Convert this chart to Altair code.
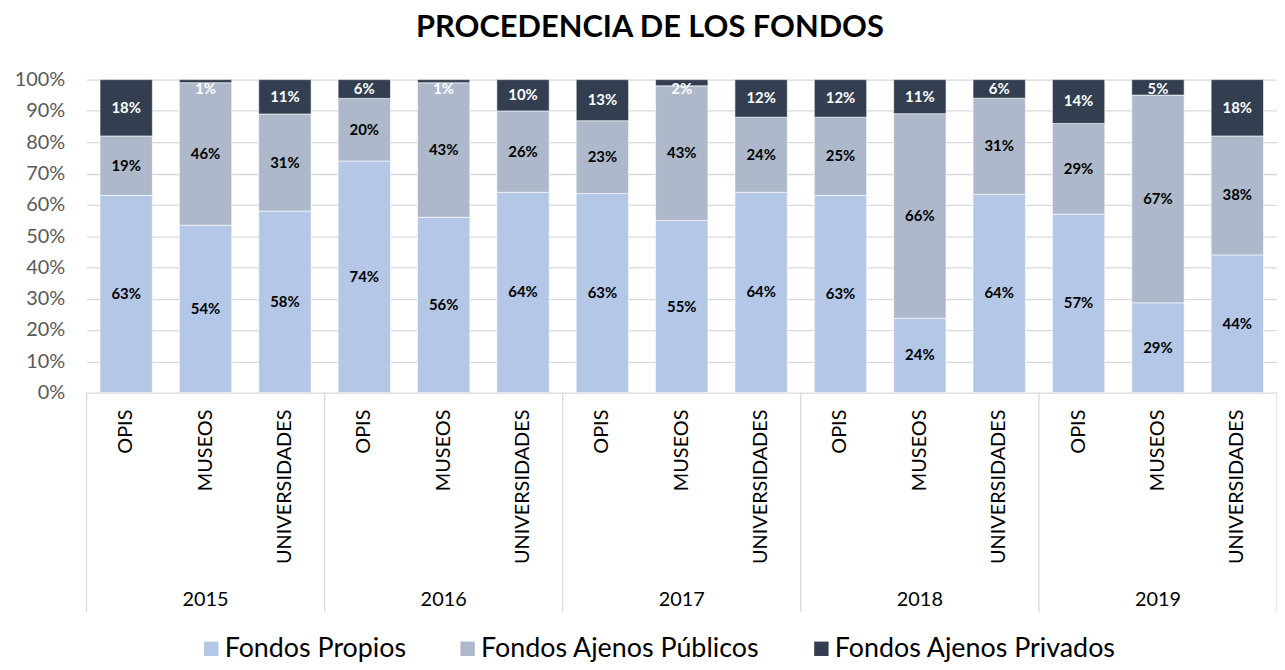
import altair as alt
import pandas as pd

years = ["2015", "2016", "2017", "2018", "2019"]
categories = ["OPIS", "MUSEOS", "UNIVERSIDADES"]
series = ["Fondos Propios", "Fondos Ajenos Públicos", "Fondos Ajenos Privados"]
propios = [63, 54, 58, 74, 56, 64, 63, 55, 64, 63, 24, 64, 57, 29, 44]
publicos = [19, 46, 31, 20, 43, 26, 23, 43, 24, 25, 66, 31, 29, 67, 38]
privados = [18, 1, 11, 6, 1, 10, 13, 2, 12, 12, 11, 6, 14, 5, 18]
colors = ["#B4C7E7", "#ADB9CA", "#333F50"]
y_ticks = [0, 0.1, 0.2, 0.3, 0.4, 0.5, 0.6, 0.7, 0.8, 0.9, 1.0]

F = "Lato"

rows = []
keys = []
cat_rows = []
for i, yr in enumerate(years):
    for j, c in enumerate(categories):
        k = i * 3 + j
        key = f"{yr}|{c}"
        keys.append(key)
        cat_rows.append({"key": key, "cat": c, "year": yr, "pos": j})
        for s, (name, vals) in enumerate(zip(series, [propios, publicos, privados])):
            rows.append({"key": key, "year": yr, "cat": c, "serie": name, "ord": s, "value": vals[k]})

df = pd.DataFrame(rows)
dcat = pd.DataFrame(cat_rows)

X = alt.X("key:N", sort=keys, axis=None, scale=alt.Scale(paddingInner=0, paddingOuter=0))

Y_AXIS = alt.Axis(values=y_ticks, tickCount=20, format=".0%", labelFont=F, labelFontSize=20,
                  labelColor="#595959", ticks=False, domain=False, labelPadding=22,
                  labelOverlap=False, labelBound=False, title=None,
                  grid=True, gridColor="#D9D9D9", gridWidth=1.3)
Y_SCALE = alt.Scale(domain=[0, 1], nice=False)

bars = alt.Chart(df).mark_bar(width={"band": 0.66}, stroke="white", strokeWidth=0.6).encode(
    x=X,
    y=alt.Y("value:Q", stack="normalize", title=None, scale=Y_SCALE, axis=Y_AXIS),
    color=alt.Color("serie:N", sort=series,
                    scale=alt.Scale(domain=series, range=colors),
                    legend=alt.Legend(orient="none", legendX=112, legendY=559, direction="horizontal",
                                      title=None, symbolType="square", symbolSize=210,
                                      symbolStrokeWidth=0, labelFont=F, labelFontSize=27,
                                      labelColor="black", columnPadding=48, labelOffset=0,
                                      labelLimit=400)),
    order=alt.Order("ord:Q"),
)

labels = alt.Chart(df).transform_stack(
    stack="value", as_=["y0", "y1"], groupby=["key"], offset="normalize",
    sort=[alt.SortField("ord", order="ascending")]
).transform_calculate(
    mid="min((datum.y0 + datum.y1) / 2, 0.97)",
    label="datum.value + '%'"
).mark_text(font=F, fontWeight="bold", fontSize=15, baseline="middle").encode(
    x=X,
    y=alt.Y("mid:Q", title=None, scale=Y_SCALE, axis=None),
    text="label:N",
    color=alt.condition("datum.ord == 2", alt.value("white"), alt.value("black")),
)

cat_text = alt.Chart(dcat).mark_text(font=F, fontSize=20, angle=270, align="right",
                                     baseline="middle", color="black").encode(
    x=X, y=alt.value(332), text="cat:N")

year_text = alt.Chart(dcat).transform_filter("datum.pos == 1").mark_text(
    font=F, fontSize=20, baseline="middle", color="black").encode(
    x=X, y=alt.value(524), text="year:N")

div_start = alt.Chart(dcat).transform_filter("datum.pos == 0").mark_rule(
    color="#D9D9D9", strokeWidth=1.3).encode(
    x=alt.X("key:N", sort=keys, axis=None, bandPosition=0,
            scale=alt.Scale(paddingInner=0, paddingOuter=0)),
    y=alt.value(315), y2=alt.value(536))

div_end = alt.Chart(dcat).transform_filter("datum.pos == 2 && datum.year == '2019'").mark_rule(
    color="#D9D9D9", strokeWidth=1.3).encode(
    x=alt.X("key:N", sort=keys, axis=None, bandPosition=1,
            scale=alt.Scale(paddingInner=0, paddingOuter=0)),
    y=alt.value(315), y2=alt.value(536))

chart = alt.layer(bars, labels, cat_text, year_text, div_start, div_end).resolve_axis(
    y="independent"
).properties(
    width=1198, height=315,
    autosize=alt.AutoSizeParams(type="none"),
    padding={"left": 79, "top": 70, "right": 0, "bottom": 269},
    title=alt.TitleParams("PROCEDENCIA DE LOS FONDOS", font=F, fontSize=31, fontWeight="bold",
                          color="black", anchor="middle", dx=-32, offset=26),
).configure_view(stroke=None)

chart.save("out.html", embed_options={"renderer": "svg", "actions": False})
